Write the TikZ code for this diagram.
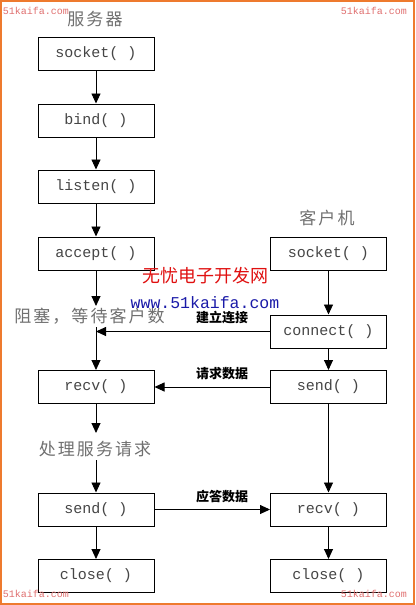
\documentclass[tikz,border=0pt]{standalone}
\usepackage{fontspec}
\setmonofont{Liberation Mono}
\newfontfamily\cjk{Noto Sans CJK SC}
\newfontfamily\cjkw[LetterSpace=12]{Noto Sans CJK SC}
\usetikzlibrary{arrows.meta}
\definecolor{frameorange}{HTML}{EE7A2E}
\definecolor{headgray}{HTML}{707070}
\definecolor{boxtext}{HTML}{454545}
\definecolor{wmpink}{HTML}{E07070}
\definecolor{wmred}{HTML}{E01010}
\definecolor{wmblue}{HTML}{1A1AA8}
\tikzset{
  x=1pt, y=-1pt,
  fnbox/.style={draw=black, line width=1pt, minimum width=116pt, minimum height=33pt,
    inner sep=0pt, font=\ttfamily\fontsize{15}{15}\selectfont, text=boxtext},
  flow/.style={line width=0.9pt, -{Triangle[width=9pt,length=10pt]}},
  headtxt/.style={font=\cjkw\fontsize{17}{17}\selectfont, text=headgray, inner sep=0pt},
  msgtxt/.style={font=\cjk\fontsize{13}{13}\selectfont\bfseries, text=black, inner sep=0pt},
  wmark/.style={font=\ttfamily\fontsize{10}{10}\selectfont, text=wmpink, inner sep=0pt},
}
\begin{document}
\begin{tikzpicture}
\useasboundingbox (0,0) rectangle (415,605);
\fill[white] (0,0) rectangle (415,605);
\draw[frameorange, line width=2pt] (1,1) rectangle (414,604);

% headers
\node[headtxt] (hserver) at (95,19) {服务器};
\node[headtxt] (hclient) at (327,218) {客户机};

% server boxes
\node[fnbox] (ssocket) at (96,53.5) {socket( )};
\node[fnbox] (sbind) at (96,120.5) {bind( )};
\node[fnbox] (slisten) at (96,186.5) {listen( )};
\node[fnbox] (saccept) at (96,253.5) {accept( )};
\node[fnbox] (srecv) at (96,387) {recv( )};
\node[fnbox] (ssend) at (96,509.5) {send( )};
\node[fnbox] (sclose) at (96,576) {close( )};

% client boxes
\node[fnbox] (csocket) at (328.5,253.5) {socket( )};
\node[fnbox] (cconnect) at (328.5,331.5) {connect( )};
\node[fnbox] (csend) at (328.5,387) {send( )};
\node[fnbox] (crecv) at (328.5,509.5) {recv( )};
\node[fnbox] (cclose) at (328.5,576) {close( )};

% state texts
\node[headtxt] (block) at (89.5,316) {阻塞，等待客户数};
\node[headtxt] (process) at (95,449) {处理服务请求};
\coordinate (blocktop) at (96,306);
\coordinate (blockbot) at (96,327);
\coordinate (proctop) at (96,433);
\coordinate (procbot) at (96,460);

% server flow
\draw[flow] (ssocket) -- (sbind);
\draw[flow] (sbind) -- (slisten);
\draw[flow] (slisten) -- (saccept);
\draw[flow] (saccept) -- (blocktop);
\draw[flow] (blockbot) -- (srecv);
\draw[flow] (srecv) -- (proctop);
\draw[flow] (procbot) -- (ssend);
\draw[flow] (ssend) -- (sclose);

% client flow
\draw[flow] (csocket) -- (cconnect);
\draw[flow] (cconnect) -- (csend);
\draw[flow] (csend) -- (crecv);
\draw[flow] (crecv) -- (cclose);

% messages
\draw[flow] (cconnect.west) -- (cconnect.west -| blockbot);
\draw[flow] (csend.west) -- (srecv.east);
\draw[flow] (ssend.east) -- (crecv.west);
\node[msgtxt] (mconnect) at (222,318) {建立连接};
\node[msgtxt] (mrequest) at (222,374) {请求数据};
\node[msgtxt] (mreply) at (222,497) {应答数据};

% watermarks
\node[font=\cjk\fontsize{18}{18}\selectfont, text=wmred, inner sep=0pt] (wmcn) at (205,275.5) {无忧电子开发网};
\node[font=\ttfamily\fontsize{16.5}{16.5}\selectfont, text=wmblue, inner sep=0pt] (wmurl) at (205,303) {www.51kaifa.com};
\node[wmark] (wm1) at (36,11) {51kaifa.com};
\node[wmark] (wm2) at (374,11) {51kaifa.com};
\node[wmark] (wm3) at (36,594) {51kaifa.com};
\node[wmark] (wm4) at (374,594) {51kaifa.com};
\end{tikzpicture}
\end{document}
